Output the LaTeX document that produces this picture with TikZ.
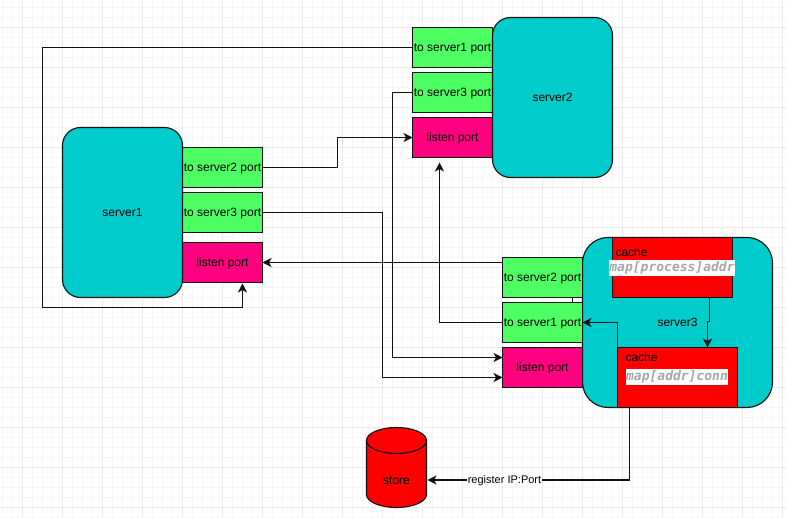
\documentclass[tikz,border=0pt]{standalone}
\usepackage{fontspec}
\setmainfont{Liberation Sans}
\newfontfamily\cachemono{DejaVu Sans Mono}
\usetikzlibrary{arrows.meta}
\definecolor{teal}{HTML}{00CCCC}
\definecolor{portgreen}{HTML}{4DFF63}
\definecolor{listenpink}{HTML}{FF0080}
\definecolor{cachered}{HTML}{FF0000}
\definecolor{linecol}{HTML}{111111}
\definecolor{monogray}{HTML}{A6A6A6}
\definecolor{gridminor}{HTML}{F6F6F6}
\definecolor{gridmajor}{HTML}{EBEBEB}
\tikzset{
  x=1pt,y=-1pt,
  every node/.style={font=\fontsize{12}{14}\selectfont,text=black,inner sep=0pt,outer sep=0pt,text height=10pt,text depth=2.5pt},
  boxbase/.style={draw=linecol,line width=1.1pt,rectangle},
  servernode/.style={boxbase,fill=teal,minimum width=120pt,rounded corners=18pt},
  portnode/.style={boxbase,fill=portgreen,minimum width=80pt,minimum height=40pt},
  listennode/.style={boxbase,fill=listenpink,minimum width=80pt,minimum height=40pt},
  cachenode/.style={boxbase,fill=cachered,minimum width=120pt,minimum height=60pt},
  cachetext/.style={anchor=west},
  monotext/.style={fill=white,text=monogray,font=\cachemono\fontsize{13}{15}\selectfont\bfseries\itshape,text height=10pt,text depth=3.5pt,inner xsep=0.5pt,inner ysep=1pt},
  conn/.style={draw=linecol,line width=1.1pt,line join=miter},
  arrowconn/.style={conn,-{Stealth[length=9pt,width=9pt,inset=2.5pt]}},
  storebody/.style={draw=linecol,line width=1.1pt,fill=cachered},
}
\begin{document}
\begin{tikzpicture}
\useasboundingbox (0,0) rectangle (786,518);
\fill[white] (0,0) rectangle (786,518);
% grid
\foreach \gx in {2.5,12.5,...,782.5} \draw[gridminor,line width=0.8pt] (\gx,0) -- (\gx,518);
\foreach \gy in {7,17,...,517} \draw[gridminor,line width=0.8pt] (0,\gy) -- (786,\gy);
\foreach \gx in {22.5,62.5,...,782.5} \draw[gridmajor,line width=0.8pt] (\gx,0) -- (\gx,518);
\foreach \gy in {27,67,...,507} \draw[gridmajor,line width=0.8pt] (0,\gy) -- (786,\gy);

% server 1
\node[portnode] (s1to2) at (222.5,167.5) {to server2 port};
\node[portnode] (s1to3) at (222.5,212.5) {to server3 port};
\node[listennode] (s1listen) at (222.5,262.5) {listen port};
\node[servernode,minimum height=170pt] (server1) at (122.5,212.5) {server1};

% server 2
\node[portnode] (s2to1) at (452.5,47.5) {to server1 port};
\node[portnode] (s2to3) at (452.5,92.5) {to server3 port};
\node[listennode] (s2listen) at (452.5,137.5) {listen port};
\node[servernode,minimum height=160pt] (server2) at (552.5,97.5) {server2};

% server 3
\node[servernode,minimum width=190pt,minimum height=170pt,rounded corners=25.5pt] (server3) at (677.5,322.5) {server3};
\node[portnode] (s3to2) at (542.5,277.5) {to server2 port};
\node[portnode] (s3to1) at (542.5,322.5) {to server1 port};
\node[listennode] (s3listen) at (542.5,367.5) {listen port};

% caches
\node[cachenode] (cacheA) at (672.5,267.5) {};
\node[cachenode] (cacheB) at (677.5,377.5) {};
\node[cachetext] (cacheAlabel) at (615.5,252.5) {cache};
\node[monotext] (cacheAmap) at (672,268) {map[process]addr};
\node[cachetext] (cacheBlabel) at (625.5,357.5) {cache};
\node[monotext] (cacheBmap) at (677,377) {map[addr]conn};

% store
\draw[storebody] (366.5,440.5) -- (366.5,494.5) arc[start angle=180,end angle=360,x radius=30,y radius=-13] -- (426.5,440.5) arc[start angle=0,end angle=180,x radius=30,y radius=-13] -- cycle;
\draw[storebody,fill=none] (366.5,440.5) arc[start angle=180,end angle=360,x radius=30,y radius=-13];
\node[minimum width=60pt,minimum height=80pt] (store) at (396.5,467.5) {};
\node (storelabel) at (396.5,480.5) {store};

% free ends and bends
\coordinate (b12a) at (337.5,167.5);
\coordinate (b12b) at (337.5,137.5);
\coordinate (s1listenS) at (242.5,283.5);
\coordinate (s2listenS) at (439.5,162.5);
\coordinate (s3listenA) at (502.5,357.5);
\coordinate (s3listenB) at (502.5,377.5);
\coordinate (storeE) at (427.5,480);
\coordinate (cacheBbot) at (629.5,407.5);
\coordinate (cacheAbot) at (709.5,297.5);
\coordinate (cacheBtop) at (707.5,347.5);
\coordinate (cacheBleft) at (617.5,347.5);
\coordinate (stubA) at (572.5,297.5);
\coordinate (stubB) at (572.5,302.5);

% connectors
\draw[arrowconn] (s1to2.east) -- (b12a) -- (b12b) -- (s2listen.west);
\draw[arrowconn] (s1to3.east) -- (382.5,212.5) -- (382.5,377.5) -- (s3listenB);
\draw[arrowconn] (s2to1.west) -- (42.5,47.5) -- (42.5,307.5) -- (242.5,307.5) -- (s1listenS);
\draw[arrowconn] (s2to3.west) -- (392.5,92.5) -- (392.5,357.5) -- (s3listenA);
\draw[arrowconn] (s3to2.west |- s1listen.east) -- (s1listen.east);
\draw[arrowconn] (s3to1.west) -- (439.5,322.5) -- (s2listenS);
\draw[conn] (stubA) -- (stubB);
\draw[arrowconn] (cacheBleft) -- (617.5,322.5) -- (s3to1.east);
\draw[arrowconn] (cacheAbot) -- (709.5,321.5) -- (707.5,321.5) -- (cacheBtop);
\draw[arrowconn] (cacheBbot) -- (629.5,480) -- (storeE);
\node[fill=white,font=\fontsize{11}{13}\selectfont,inner xsep=0.5pt,inner ysep=0.5pt,text height=8.5pt,text depth=2.5pt] (reglabel) at (504.5,480) {register IP:Port};
\end{tikzpicture}
\end{document}
